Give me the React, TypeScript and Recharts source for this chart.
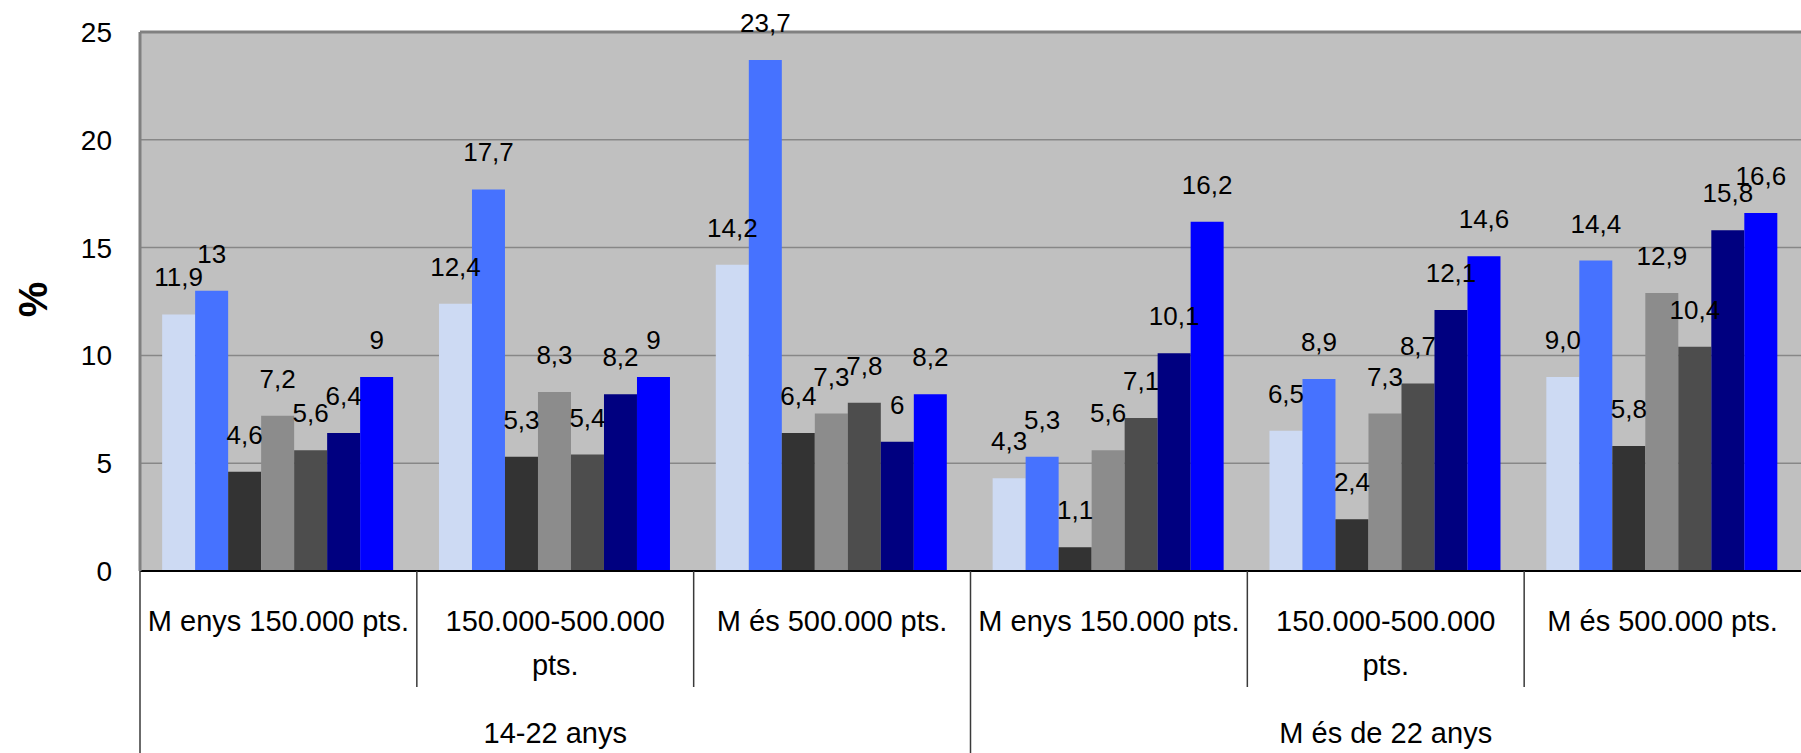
import { Bar, BarChart, CartesianGrid, LabelList, ReferenceLine, XAxis, YAxis } from 'recharts'

const categories = [
  'M enys 150.000 pts.',
  '150.000-500.000\npts.',
  'M és 500.000 pts.',
  'M enys 150.000 pts.',
  '150.000-500.000\npts.',
  'M és 500.000 pts.',
]
const groups = ['14-22 anys', '14-22 anys', '14-22 anys', 'M és de 22 anys', 'M és de 22 anys', 'M és de 22 anys']

// values as printed on the chart (comma decimals)
const s1 = ['11,9', '12,4', '14,2', '4,3', '6,5', '9,0']
const s2 = ['13', '17,7', '23,7', '5,3', '8,9', '14,4']
const s3 = ['4,6', '5,3', '6,4', '1,1', '2,4', '5,8']
const s4 = ['7,2', '8,3', '7,3', '5,6', '7,3', '12,9']
const s5 = ['5,6', '5,4', '7,8', '7,1', '8,7', '10,4']
const s6 = ['6,4', '8,2', '6', '10,1', '12,1', '15,8']
const s7 = ['9', '9', '8,2', '16,2', '14,6', '16,6']

const yTicks = [0, 5, 10, 15, 20, 25]

const series = [s1, s2, s3, s4, s5, s6, s7]
const colors = ['#CDDAF3', '#4672FF', '#333333', '#8C8C8C', '#4D4D4D', '#000080', '#0000FF']

const toNum = (s: string) => parseFloat(s.replace(',', '.'))

const data = categories.map((cat, i) => {
  const row: Record<string, string | number> = { cat, group: groups[i] }
  series.forEach((s, k) => {
    row['v' + k] = toNum(s[i])
    row['l' + k] = s[i]
  })
  return row
})

function CatTick(props: any) {
  const { x, y, payload, index, width } = props
  const bw = (typeof width === 'number' ? width : 1661) / categories.length
  const lines = String(payload.value).split('\n')
  const left = x - bw / 2
  const full = index % 3 === 0
  return (
    <g>
      <line x1={left} y1={y} x2={left} y2={y + (full ? 182 : 116)} stroke="#3a3a3a" strokeWidth={1.5} />
      <text x={x} y={y + 60} textAnchor="middle" fontSize={29} fill="#000">
        {lines.map((l, i) => (
          <tspan key={i} x={x} dy={i === 0 ? 0 : 44}>
            {l}
          </tspan>
        ))}
      </text>
      {index % 3 === 1 && (
        <text x={x} y={y + 172} textAnchor="middle" fontSize={29} fill="#000">
          {groups[index]}
        </text>
      )}
    </g>
  )
}

function PercentLabel(props: any) {
  const vb = props.viewBox || { x: 0, y: 32, height: 539 }
  const cx = vb.x + 33
  const cy = vb.y + vb.height / 2 - 2
  return (
    <text
      x={cx}
      y={cy}
      textAnchor="middle"
      dominantBaseline="central"
      fontSize={40}
      fontWeight="bold"
      fill="#000"
      transform={`rotate(-90 ${cx} ${cy})`}
    >
      %
    </text>
  )
}

export default function App() {
  return (
    <div style={{ width: 1801, height: 753, background: '#fff', fontFamily: "'Liberation Sans', Arial, sans-serif" }}>
      <style>{'body{margin:0}'}</style>
      <BarChart
        width={1801}
        height={753}
        data={data}
        margin={{ top: 32, right: 0, left: 0, bottom: 0 }}
        barCategoryGap="8%"
        barGap={0}
      >
        <CartesianGrid vertical={false} fill="#C0C0C0" stroke="#878787" strokeWidth={1.5} />
        <ReferenceLine y={25} stroke="#808080" strokeWidth={3} />
        <XAxis
          dataKey="cat"
          interval={0}
          height={182}
          tickSize={0}
          tickMargin={0}
          tickLine={false}
          axisLine={{ stroke: '#000', strokeWidth: 2 }}
          tick={<CatTick />}
        />
        <YAxis
          width={140}
          domain={[0, 25]}
          ticks={yTicks}
          interval={0}
          tickSize={0}
          tickMargin={28}
          tickLine={false}
          axisLine={{ stroke: '#808080', strokeWidth: 3 }}
          tick={{ fill: '#000', fontSize: 28 }}
          label={<PercentLabel />}
        />
        {colors.map((c, k) => (
          <Bar key={k} dataKey={'v' + k} fill={c} isAnimationActive={false}>
            <LabelList dataKey={'l' + k} position="top" offset={28} fill="#000" fontSize={26} />
          </Bar>
        ))}
      </BarChart>
    </div>
  )
}
